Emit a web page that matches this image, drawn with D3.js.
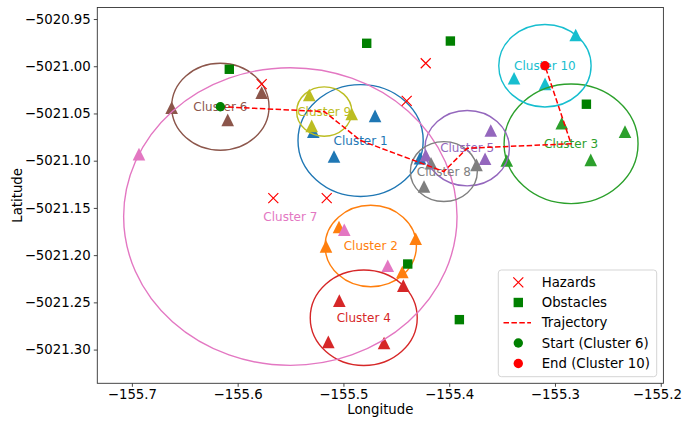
<!DOCTYPE html>
<html>
<head>
<meta charset="utf-8">
<script src="https://cdn.jsdelivr.net/npm/d3@7"></script>
<style>
  html, body { margin: 0; padding: 0; background: #fff; }
  svg { display: block; font-family: "DejaVu Sans", sans-serif; }
</style>
</head>
<body>
<svg id="chart" width="683" height="421"></svg>
<script>
// Cluster members (longitude / latitude per cluster, Cluster 1 .. Cluster 10)
const clusterNames = ["Cluster 1", "Cluster 2", "Cluster 3", "Cluster 4", "Cluster 5",
                      "Cluster 6", "Cluster 7", "Cluster 8", "Cluster 9", "Cluster 10"];
const clusterLon = [
  [-155.4701, -155.5285, -155.5089, -155.4276],
  [-155.5042, -155.5165, -155.4317, -155.4443],
  [-155.2936, -155.2338, -155.2662, -155.3456],
  [-155.4434, -155.5039, -155.5143, -155.4616],
  [-155.3607, -155.3661, -155.4222],
  [-155.6624, -155.5773, -155.6094],
  [-155.6933, -155.4992, -155.4581],
  [-155.3742, -155.4238, -155.4172],
  [-155.5323, -155.4922, -155.5300],
  [-155.2804, -155.3387, -155.3094]
];
const clusterLat = [
  [-5021.0526, -5021.0692, -5021.0956, -5021.0973],
  [-5021.1702, -5021.1907, -5021.1826, -5021.2178],
  [-5021.0603, -5021.0692, -5021.0991, -5021.0998],
  [-5021.2323, -5021.2482, -5021.2918, -5021.2931],
  [-5021.0681, -5021.0980, -5021.0943],
  [-5021.0438, -5021.0279, -5021.0568],
  [-5021.0931, -5021.1731, -5021.2112],
  [-5021.1044, -5021.1273, -5021.1027],
  [-5021.0304, -5021.0504, -5021.0631],
  [-5020.9669, -5021.0127, -5021.0187]
];

const hazardLon = [-155.5773, -155.5663, -155.5158, -155.4222, -155.4402];
const hazardLat = [-5021.0190, -5021.1396, -5021.1396, -5020.9968, -5021.0367];

const obstacleLon = [-155.6079, -155.4780, -155.3989, -155.2703, -155.4392, -155.3904];
const obstacleLat = [-5021.0032, -5020.9757, -5020.9733, -5021.0402, -5021.2094, -5021.2683];

// Visiting order of cluster numbers along the planned route
const trajectoryOrder = [6, 9, 1, 8, 5, 3, 10];

const xTicks = [-155.7, -155.6, -155.5, -155.4, -155.3, -155.2];
const yTicks = [-5020.95, -5021.00, -5021.05, -5021.10, -5021.15, -5021.20, -5021.25, -5021.30];

const legendLabels = ["Hazards", "Obstacles", "Trajectory", "Start (Cluster 6)", "End (Cluster 10)"];

// ---- layout ----
const W = 683;
const svg = d3.select("#chart");
const plot = { left: 97.3, top: 7.5, right: 663.4, bottom: 383.3 };
const x = d3.scaleLinear().domain([-155.7327, -155.1975]).range([plot.left, plot.right]);
const y = d3.scaleLinear().domain([-5021.3357, -5020.9378]).range([plot.bottom, plot.top]);
const colors = d3.schemeCategory10;

const clipId = "plot-clip";
svg.append("defs").append("clipPath").attr("id", clipId)
  .append("rect")
  .attr("x", plot.left).attr("y", plot.top)
  .attr("width", plot.right - plot.left).attr("height", plot.bottom - plot.top);

const g = svg.append("g").attr("clip-path", `url(#${clipId})`);

// cluster centres (mean position) and enclosing radius (farthest member)
const clusters = clusterNames.map((name, i) => {
  const lon = clusterLon[i], lat = clusterLat[i];
  const cx = d3.mean(lon), cy = d3.mean(lat);
  const r = d3.max(lon.map((v, j) => Math.hypot(v - cx, lat[j] - cy)));
  return { name, cx, cy, r, color: colors[i],
           pts: lon.map((v, j) => [v, lat[j]]) };
});

const triSize = 6.3;
const triPath = `M0,${-triSize}L${triSize},${triSize}L${-triSize},${triSize}Z`;

// member triangles
clusters.forEach(c => {
  g.selectAll(null).data(c.pts).enter().append("path")
    .attr("d", triPath)
    .attr("transform", d => `translate(${x(d[0])},${y(d[1])})`)
    .attr("fill", c.color);
});

// enclosing circles
clusters.forEach(c => {
  g.append("ellipse")
    .attr("cx", x(c.cx)).attr("cy", y(c.cy))
    .attr("rx", Math.abs(x(c.cx + c.r) - x(c.cx)))
    .attr("ry", Math.abs(y(c.cy + c.r) - y(c.cy)))
    .attr("fill", "none")
    .attr("stroke", c.color)
    .attr("stroke-width", 1.4);
});

// cluster labels at centres
clusters.forEach(c => {
  g.append("text")
    .attr("x", x(c.cx)).attr("y", y(c.cy))
    .attr("text-anchor", "middle")
    .attr("dominant-baseline", "central")
    .attr("font-size", 12)
    .attr("fill", c.color)
    .text(c.name);
});

function crossPath(s) {
  return `M${-s},${-s}L${s},${s}M${-s},${s}L${s},${-s}`;
}
const sq = 4.7;

// hazards
g.selectAll(".hazard").data(hazardLon.map((v, i) => [v, hazardLat[i]])).enter().append("path")
  .attr("class", "hazard")
  .attr("d", crossPath(5))
  .attr("transform", d => `translate(${x(d[0])},${y(d[1])})`)
  .attr("stroke", "red").attr("stroke-width", 1.2).attr("fill", "none");

// obstacles
g.selectAll(".obstacle").data(obstacleLon.map((v, i) => [v, obstacleLat[i]])).enter().append("rect")
  .attr("class", "obstacle")
  .attr("x", d => x(d[0]) - sq).attr("y", d => y(d[1]) - sq)
  .attr("width", 2 * sq).attr("height", 2 * sq)
  .attr("fill", "green");

// route through cluster centres
const route = trajectoryOrder.map(n => clusters[n - 1]);
g.append("path")
  .attr("d", d3.line().x(c => x(c.cx)).y(c => y(c.cy))(route))
  .attr("fill", "none")
  .attr("stroke", "red")
  .attr("stroke-width", 1.5)
  .attr("stroke-dasharray", "5.5,2.4");

const startC = route[0], endC = route[route.length - 1];
g.append("circle").attr("cx", x(startC.cx)).attr("cy", y(startC.cy)).attr("r", 4.7).attr("fill", "green");
g.append("circle").attr("cx", x(endC.cx)).attr("cy", y(endC.cy)).attr("r", 4.7).attr("fill", "red");

// ---- axes ----
const fontSize = 13.3;
const xAxis = svg.append("g").attr("transform", `translate(0,${plot.bottom})`)
  .call(d3.axisBottom(x).tickValues(xTicks).tickFormat(d3.format(".1f")).tickSize(3.5).tickPadding(3));
const yAxis = svg.append("g").attr("transform", `translate(${plot.left},0)`)
  .call(d3.axisLeft(y).tickValues(yTicks).tickFormat(d3.format(".2f")).tickSize(3.5).tickPadding(3));
[xAxis, yAxis].forEach(a => {
  a.select(".domain").remove();
  a.selectAll("text").attr("font-size", fontSize).attr("font-family", "DejaVu Sans").attr("fill", "#000");
  a.selectAll("line").attr("stroke", "#333").attr("stroke-width", 0.9);
});
// keep the right-most tick label inside the page
xAxis.selectAll(".tick text").each(function () {
  const box = this.getBBox();
  const tx = +this.parentNode.getAttribute("transform").match(/translate\(([-\d.]+)/)[1];
  const over = tx + box.x + box.width - (W - 1);
  if (over > 0) d3.select(this).attr("x", -over);
});

svg.append("rect")
  .attr("x", plot.left).attr("y", plot.top)
  .attr("width", plot.right - plot.left).attr("height", plot.bottom - plot.top)
  .attr("fill", "none").attr("stroke", "#333").attr("stroke-width", 0.9);

svg.append("text")
  .attr("x", (plot.left + plot.right) / 2).attr("y", 414)
  .attr("text-anchor", "middle").attr("font-size", fontSize)
  .text("Longitude");
svg.append("text")
  .attr("transform", `translate(21.5,${(plot.top + plot.bottom) / 2}) rotate(-90)`)
  .attr("text-anchor", "middle").attr("font-size", fontSize)
  .text("Latitude");

// ---- legend ----
const lg = svg.append("g");
lg.append("rect")
  .attr("x", 498.3).attr("y", 270).attr("width", 158.4).attr("height", 106.7)
  .attr("rx", 3).attr("fill", "#fff").attr("fill-opacity", 0.8)
  .attr("stroke", "#d0d0d0").attr("stroke-width", 0.9);
const rowY = [282.3, 302.5, 322.7, 343, 363.5];
const mx = 518.3;
lg.append("path").attr("d", crossPath(5)).attr("transform", `translate(${mx},${rowY[0]})`)
  .attr("stroke", "red").attr("stroke-width", 1.2).attr("fill", "none");
lg.append("rect").attr("x", mx - sq).attr("y", rowY[1] - sq).attr("width", 2 * sq).attr("height", 2 * sq).attr("fill", "green");
lg.append("line").attr("x1", 503.5).attr("x2", 531).attr("y1", rowY[2]).attr("y2", rowY[2])
  .attr("stroke", "red").attr("stroke-width", 1.5).attr("stroke-dasharray", "5.5,2.4");
lg.append("circle").attr("cx", mx).attr("cy", rowY[3]).attr("r", 4.7).attr("fill", "green");
lg.append("circle").attr("cx", mx).attr("cy", rowY[4]).attr("r", 4.7).attr("fill", "red");
lg.selectAll(".lt").data(legendLabels).enter().append("text")
  .attr("x", 541.7).attr("y", (d, i) => rowY[i])
  .attr("dominant-baseline", "central")
  .attr("font-size", fontSize)
  .text(d => d);
</script>
</body>
</html>
